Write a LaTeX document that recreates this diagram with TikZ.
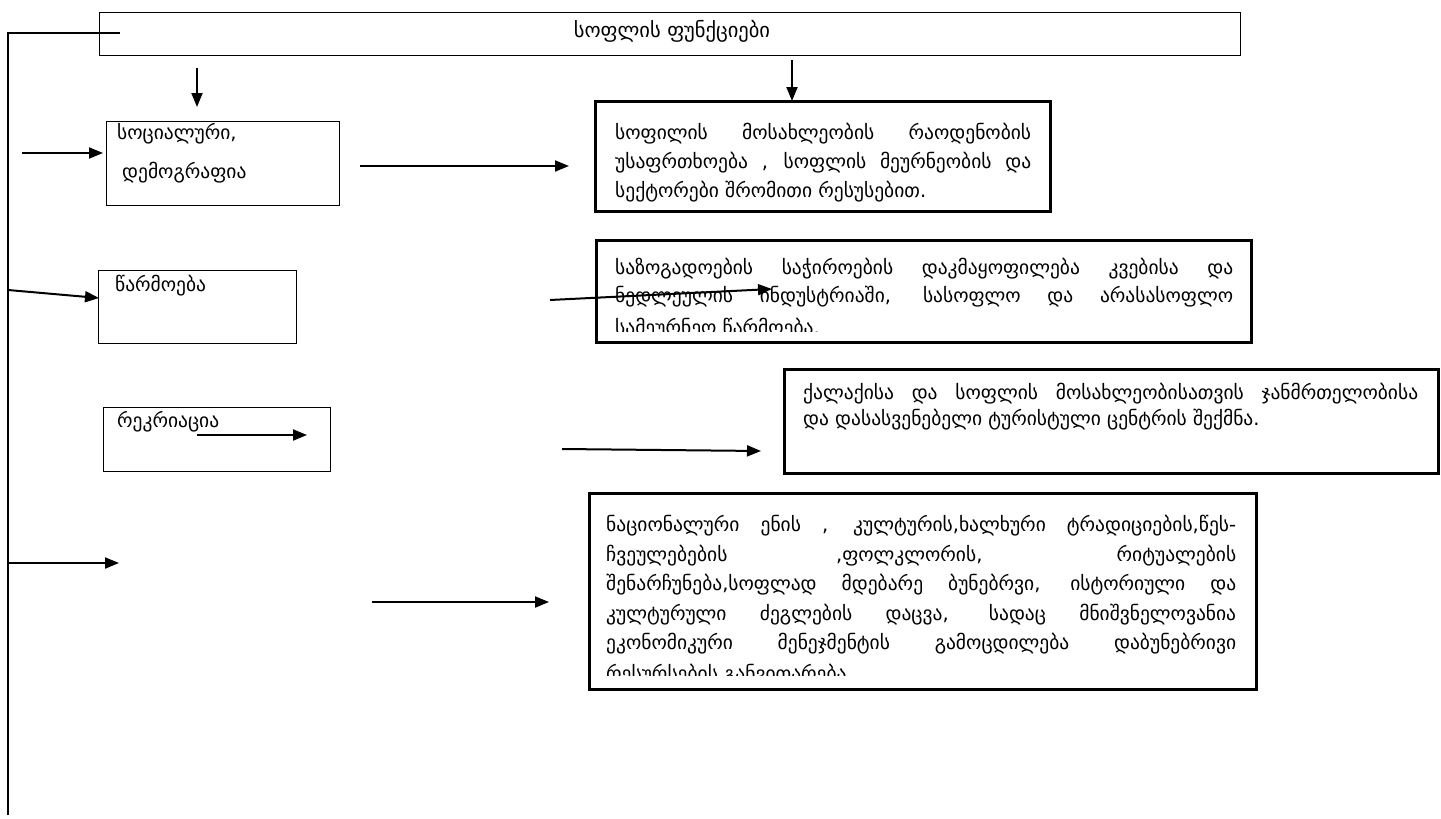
\documentclass[tikz,border=0pt]{standalone}
\usepackage{fontspec}
\setmainfont{DejaVu Sans}
\usetikzlibrary{arrows.meta}
\newcommand{\jline}[2]{\makebox[#1pt][s]{\spaceskip=0.3em plus 20em minus 0.25em #2}}
\begin{document}
\begin{tikzpicture}[x=1pt,y=-1pt,
  thinbox/.style={draw, line width=1.4pt, inner sep=0pt, anchor=north west},
  thickbox/.style={draw, line width=2.8pt, inner sep=0pt, anchor=north west},
  conn/.style={line width=2pt, -{Triangle[length=14pt,width=11pt]}},
  plain/.style={line width=1.8pt},
  lbl/.style={anchor=base west, inner sep=0pt, font=\fontsize{19.5}{22}\selectfont},
  txt/.style={anchor=base west, inner sep=0pt, font=\fontsize{19.5}{22}\selectfont},
]
\useasboundingbox (0,0) rectangle (1441,819);
\fill[white] (0,0) rectangle (1441,819);

% boxes
\node[thinbox, minimum width=1141pt, minimum height=43pt] (title) at (99,12) {};
\node[thinbox, minimum width=233pt, minimum height=84pt] (soc) at (106,121) {};
\node[thinbox, minimum width=198pt, minimum height=73pt] (prod) at (98,270) {};
\node[thinbox, minimum width=227pt, minimum height=64pt] (rec) at (103,407) {};
\node[thickbox, minimum width=455pt, minimum height=110pt] (b1) at (594,100) {};
\node[thickbox, minimum width=655pt, minimum height=102pt] (b2) at (595,239) {};
\node[thickbox, minimum width=654pt, minimum height=104pt] (b3) at (783,368) {};
\node[thickbox, minimum width=667pt, minimum height=196pt] (b4) at (588,492) {};

% texts
\node[lbl, anchor=base, font=\fontsize{20.5}{22}\selectfont] (tt) at (672,37) {სოფლის ფუნქციები};
\node[lbl] (s1) at (117,139) {სოციალური,};
\node[lbl] (s2) at (122,178) {დემოგრაფია};
\node[lbl] (p1) at (115,291) {წარმოება};
\node[lbl] (r1) at (117,427) {რეკრიაცია};

\node[txt] (b1l1) at (615,139) {\jline{416}{სოფილის მოსახლეობის რაოდენობის}};
\node[txt] (b1l2) at (615,168) {\jline{416}{უსაფრთხოება , სოფლის მეურნეობის და}};
\node[txt] (b1l3) at (615,197) {სექტორები შრომითი რესუსებით.};

\begin{scope}
\clip (595,239) rectangle (1250,331);
\node[txt] (b2l1) at (615,274) {\jline{618}{საზოგადოების საჭიროების დაკმაყოფილება კვებისა და}};
\node[txt] (b2l2) at (615,302) {\jline{618}{ნედლეულის ინდუსტრიაში, სასოფლო და არასასოფლო}};
\node[txt] (b2l3) at (615,334) {სამეურნეო წარმოება.};
\end{scope}

\node[txt] (b3l1) at (803,399) {\jline{615}{ქალაქისა და სოფლის მოსახლეობისათვის ჯანმრთელობისა}};
\node[txt] (b3l2) at (803,425) {და დასასვენებელი ტურისტული ცენტრის შექმნა.};

\begin{scope}
\clip (588,492) rectangle (1255,675);
\node[txt] (b4l1) at (606,531) {\jline{630}{ნაციონალური ენის , კულტურის,ხალხური ტრადიციების,წეს-}};
\node[txt] (b4l2) at (606,561) {\jline{630}{ჩვეულებების ,ფოლკლორის, რიტუალების}};
\node[txt] (b4l3) at (606,590) {\jline{630}{შენარჩუნება,სოფლად მდებარე ბუნებრვი, ისტორიული და}};
\node[txt] (b4l4) at (606,620) {\jline{630}{კულტურული ძეგლების დაცვა, სადაც მნიშვნელოვანია}};
\node[txt] (b4l5) at (606,649) {\jline{630}{ეკონომიკური მენეჯმენტის გამოცდილება დაბუნებრივი}};
\node[txt] (b4l6) at (606,680) {რესურსების განვითარება.};
\end{scope}

% connector coordinates
\coordinate (vtop) at (8,33);
\coordinate (vbot) at (8,815);
\coordinate (htop) at (120,33);
\coordinate (d1s) at (197,68);   \coordinate (d1e) at (197,107);
\coordinate (d2s) at (792,60);   \coordinate (d2e) at (792,101);
\coordinate (a1s) at (22,153);   \coordinate (a1e) at (103,153);
\coordinate (a2s) at (360,166);  \coordinate (a2e) at (569,166);
\coordinate (a3s) at (8,290);    \coordinate (a3e) at (99,298);
\coordinate (a4s) at (550,300);  \coordinate (a4e) at (772,289);
\coordinate (a5s) at (197,435);  \coordinate (a5e) at (307,435);
\coordinate (a6s) at (562,449);  \coordinate (a6e) at (761,451);
\coordinate (a7s) at (8,563);    \coordinate (a7e) at (119,563);
\coordinate (a8s) at (372,602);  \coordinate (a8e) at (549,602);

\draw[plain] (vbot) -- (vtop) -- (htop);
\draw[conn] (d1s) -- (d1e);
\draw[conn] (d2s) -- (d2e);
\draw[conn] (a1s) -- (a1e);
\draw[conn] (a2s) -- (a2e);
\draw[conn] (a3s) -- (a3e);
\draw[conn] (a4s) -- (a4e);
\draw[conn] (a5s) -- (a5e);
\draw[conn] (a6s) -- (a6e);
\draw[conn] (a7s) -- (a7e);
\draw[conn] (a8s) -- (a8e);
\end{tikzpicture}
\end{document}
